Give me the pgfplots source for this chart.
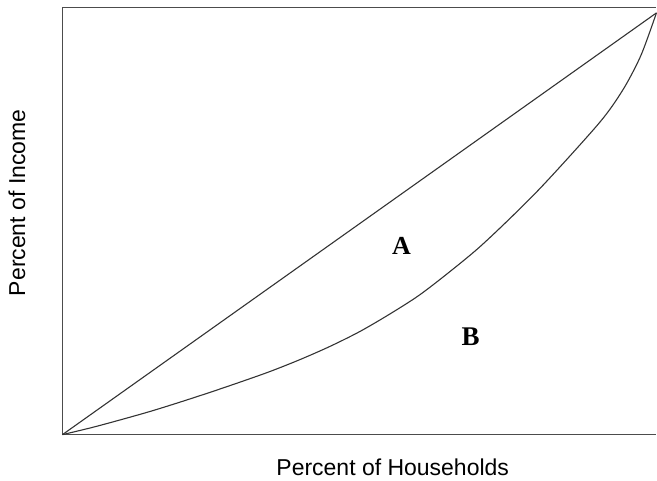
\documentclass[border=0pt]{standalone}
\usepackage{pgfplots}
\pgfplotsset{compat=1.18}
\usepackage{fontspec}
\setmainfont{Liberation Sans}
\newfontfamily\serifbold{Liberation Serif}
\begin{document}
\begin{tikzpicture}[x=1pt,y=1pt]
\begin{axis}[
  scale only axis,
  width=594.5pt, height=428pt,
  xmin=0, xmax=1, ymin=0, ymax=1.014,
  separate axis lines,
  axis x line=box, axis y line=left,
  axis line style={-, draw=black!70, line width=0.9pt},
  xtick=\empty, ytick=\empty,
  clip=false,
]
\addplot[black!80, line width=1.1pt] coordinates {(0,0) (1,1)};
\addplot[black!80, line width=1.1pt, smooth, tension=0.5] coordinates {
(0,0) (0.05,0.017) (0.1,0.036) (0.15,0.056) (0.2,0.078) (0.25,0.101)
(0.3,0.125) (0.35,0.150) (0.4,0.178) (0.45,0.209) (0.5,0.244) (0.55,0.285)
(0.6,0.330) (0.65,0.384) (0.7,0.442) (0.75,0.508) (0.8,0.578) (0.85,0.654)
(0.9,0.733) (0.925,0.778) (0.95,0.833) (0.975,0.903) (1,1)};
\node[font=\serifbold\bfseries\fontsize{26}{26}\selectfont] at (axis cs:0.571,0.448) {A};
\node[font=\serifbold\bfseries\fontsize{27}{27}\selectfont] at (axis cs:0.687,0.232) {B};
\node[font=\fontsize{23}{23}\selectfont] at ([yshift=-33pt]rel axis cs:0.556,0) {Percent of Households};
\node[font=\fontsize{23}{23}\selectfont, rotate=90] at ([xshift=-45.5pt]rel axis cs:0,0.542) {Percent of Income};
\end{axis}
\useasboundingbox (-62.5pt,-46pt) rectangle (594.5pt,435pt);
\end{tikzpicture}
\end{document}
